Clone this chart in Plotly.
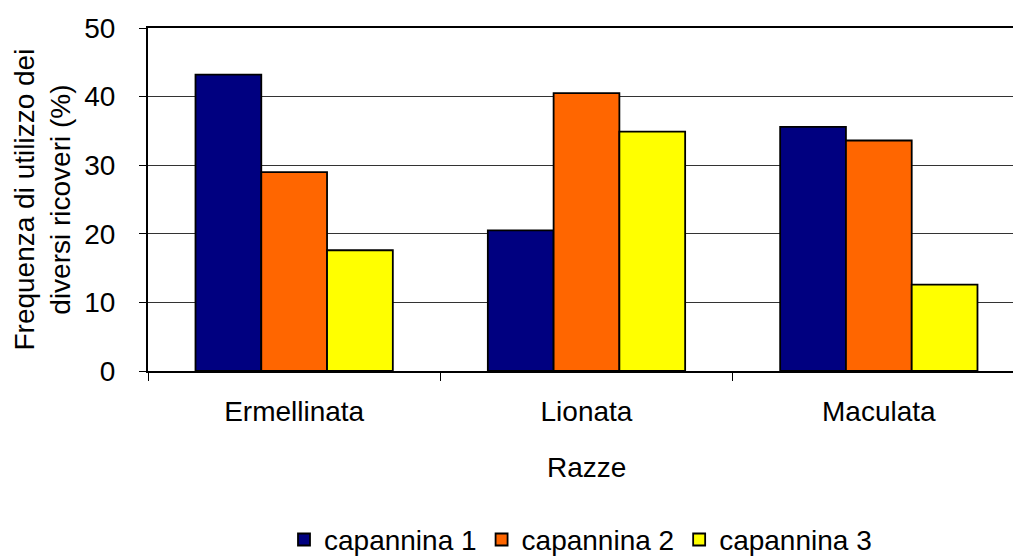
import plotly.graph_objects as go

categories = ["Ermellinata", "Lionata", "Maculata"]
series_names = ["capannina 1", "capannina 2", "capannina 3"]
capannina_1 = [43.2, 20.5, 35.6]
capannina_2 = [29.0, 40.5, 33.6]
capannina_3 = [17.6, 34.9, 12.6]
y_ticks = [0, 10, 20, 30, 40, 50]

colors = ["#000080", "#FF6600", "#FFFF00"]
FONT = "Liberation Sans, Arial, sans-serif"

fig = go.Figure()
for name, vals, col in zip(series_names, [capannina_1, capannina_2, capannina_3], colors):
    fig.add_trace(go.Bar(
        x=categories, y=vals, name=name,
        marker=dict(color=col, line=dict(color="black", width=1.8)),
    ))

fig.update_layout(
    width=1013, height=559,
    margin=dict(l=148, r=0, t=28, b=188, autoexpand=False),
    paper_bgcolor="white", plot_bgcolor="white",
    barmode="group", bargap=0.325, bargroupgap=0,
    font=dict(family=FONT, size=28, color="black"),
    showlegend=True,
    legend=dict(orientation="h", x=0.5, xanchor="center", y=-0.565, yanchor="bottom",
                font=dict(size=28), itemwidth=30, traceorder="normal"),
    xaxis=dict(type="category", range=[-0.5, 2.459], tickson="boundaries",
               ticks="outside", ticklen=8, tickcolor="black", tickwidth=1,
               showline=True, linecolor="black", linewidth=2, mirror=True,
               showgrid=False, ticklabelstandoff=14, automargin=False,
               tickfont=dict(size=28)),
    yaxis=dict(range=[0, 50], tickvals=y_ticks, ticks="outside", ticklen=7,
               tickcolor="black", tickwidth=1,
               showline=True, linecolor="black", linewidth=2,
               showgrid=True, gridcolor="#333333", gridwidth=1,
               zeroline=False, ticklabelstandoff=18, automargin=False,
               tickfont=dict(size=28)),
    annotations=[
        dict(text="Razze", xref="paper", yref="paper", x=0.5075, y=-0.28,
             xanchor="center", yanchor="middle", showarrow=False,
             font=dict(size=28)),
        dict(text="Frequenza di utilizzo dei<br>diversi ricoveri (%)",
             xref="paper", yref="paper", x=-0.1225, y=0.5, textangle=-90,
             xanchor="center", yanchor="middle", showarrow=False,
             font=dict(size=28)),
    ],
)

fig.write_html(
    "out.html",
    config={"displayModeBar": False},
    post_script="document.body.style.margin='0';document.body.style.overflow='hidden';",
)
